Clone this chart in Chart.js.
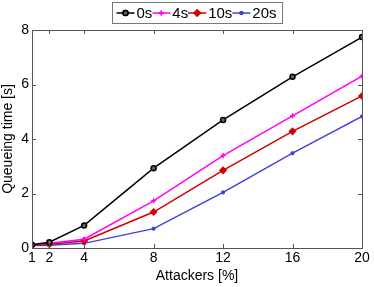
<!DOCTYPE html>
<html>
<head>
<meta charset="utf-8">
<script src="https://cdn.jsdelivr.net/npm/chart.js@4/dist/chart.umd.min.js"></script>
<style>
  html, body { margin: 0; padding: 0; background: #fff; }
  #wrap { width: 374px; height: 287px; position: relative; }
</style>
</head>
<body>
<div id="wrap"><canvas id="chart"></canvas></div>
<script>
// ============================================
// DATA
// ============================================
const attackers = [1, 2, 4, 8, 12, 16, 20];
const xTicks = [1, 2, 4, 8, 12, 16, 20];
const yTicks = [0, 2, 4, 6, 8];
const seriesNames = ['0s', '4s', '10s', '20s'];
const wait0 = [0.12, 0.21, 0.83, 2.93, 4.70, 6.28, 7.74];
const wait4 = [0.12, 0.17, 0.32, 1.73, 3.39, 4.85, 6.31];
const wait10 = [0.10, 0.14, 0.26, 1.32, 2.85, 4.28, 5.58];
const wait20 = [0.09, 0.10, 0.17, 0.71, 2.04, 3.48, 4.83];

const FONT = 'Liberation Sans, Arial, sans-serif';
const AXIS = '#555';

function toPoints(values) {
  return attackers.map((x, i) => ({ x: x, y: values[i] }));
}

const styles = [
  { color: '#000000', point: 'circle', radius: 2.5, fill: '#666666' },
  { color: '#ff00ff', point: 'cross', radius: 2.5, fill: '#ff00ff' },
  { color: '#d00000', point: 'rectRot', radius: 3, fill: '#d00000' },
  { color: '#4040e0', point: 'star', radius: 2, fill: '#4040e0' }
];

const allValues = [wait0, wait4, wait10, wait20];

// ============================================
// PLUGINS: frame, inner ticks, legend box
// ============================================
const framePlugin = {
  id: 'frame',
  afterDraw(chart) {
    const { ctx, chartArea: a, scales } = chart;
    ctx.save();
    ctx.strokeStyle = AXIS;
    ctx.lineWidth = 1;
    ctx.strokeRect(a.left + 0.5, a.top + 0.5, a.right - a.left, a.bottom - a.top);
    ctx.beginPath();
    xTicks.forEach(v => {
      const px = Math.round(scales.x.getPixelForValue(v)) + 0.5;
      ctx.moveTo(px, a.bottom); ctx.lineTo(px, a.bottom - 4);
      ctx.moveTo(px, a.top); ctx.lineTo(px, a.top + 4);
    });
    yTicks.forEach(v => {
      const py = Math.round(scales.y.getPixelForValue(v)) + 0.5;
      ctx.moveTo(a.left, py); ctx.lineTo(a.left + 4, py);
      ctx.moveTo(a.right, py); ctx.lineTo(a.right - 4, py);
    });
    ctx.stroke();

    // legend
    ctx.font = '15px ' + FONT;
    const seg = 18, gap = 2, pad = 4;
    let widths = seriesNames.map(n => seg + gap + ctx.measureText(n).width);
    const total = widths.reduce((s, w) => s + w, 0) + pad * 2 + 2;
    const bx = Math.round(197 - total / 2) + 0.5, by = 2.5, bh = 21;
    ctx.fillStyle = '#fff';
    ctx.fillRect(bx, by, total, bh);
    ctx.strokeStyle = '#777';
    ctx.strokeRect(bx, by, total, bh);
    let x = bx + pad;
    const cy = by + bh / 2;
    seriesNames.forEach((name, i) => {
      const s = styles[i];
      ctx.strokeStyle = s.color;
      ctx.lineWidth = 1.5;
      ctx.beginPath(); ctx.moveTo(x, cy); ctx.lineTo(x + seg, cy); ctx.stroke();
      Chart.helpers.drawPoint(ctx, {
        pointStyle: s.point, radius: s.radius, borderWidth: 1.5, rotation: 0
      }, x + seg / 2, cy);
      ctx.fillStyle = s.fill; ctx.strokeStyle = s.color;
      ctx.fill(); ctx.stroke();
      ctx.fillStyle = '#000';
      ctx.textBaseline = 'middle';
      ctx.fillText(name, x + seg + gap, cy + 1);
      x += widths[i];
    });
    ctx.restore();
  }
};

// ============================================
// CHART
// ============================================
new Chart(document.getElementById('chart'), {
  type: 'line',
  data: {
    datasets: seriesNames.map((name, i) => ({
      label: name,
      data: toPoints(allValues[i]),
      borderColor: styles[i].color,
      backgroundColor: styles[i].fill,
      pointStyle: styles[i].point,
      pointRadius: styles[i].radius,
      pointBorderWidth: 1.5,
      pointBorderColor: styles[i].color,
      borderWidth: 1.5,
      tension: 0,
      fill: false
    }))
  },
  options: {
    responsive: true,
    maintainAspectRatio: false,
    animation: false,
    layout: { padding: { top: 30, right: 12, left: 0, bottom: 0 } },
    plugins: { legend: { display: false }, tooltip: { enabled: false } },
    scales: {
      x: {
        type: 'linear', min: 1, max: 20,
        afterBuildTicks: s => { s.ticks = xTicks.map(v => ({ value: v })); },
        afterFit: s => { s.height = 39; },
        grid: { display: false, drawTicks: false },
        border: { display: false },
        ticks: { color: '#000', font: { family: FONT, size: 14 }, padding: 2, maxRotation: 0, autoSkip: false },
        title: { display: true, text: 'Attackers [%]', color: '#000', font: { family: FONT, size: 14 }, padding: { top: 0, bottom: 2 } }
      },
      y: {
        min: 0, max: 8,
        afterBuildTicks: s => { s.ticks = yTicks.map(v => ({ value: v })); },
        afterFit: s => { s.width = 32; },
        grid: { display: false, drawTicks: false },
        border: { display: false },
        ticks: { color: '#000', font: { family: FONT, size: 14 }, padding: 3 },
        title: { display: true, text: 'Queueing time [s]', color: '#000', font: { family: FONT, size: 14 }, padding: { top: 0, bottom: 0 } }
      }
    }
  },
  plugins: [framePlugin]
});
</script>
</body>
</html>
